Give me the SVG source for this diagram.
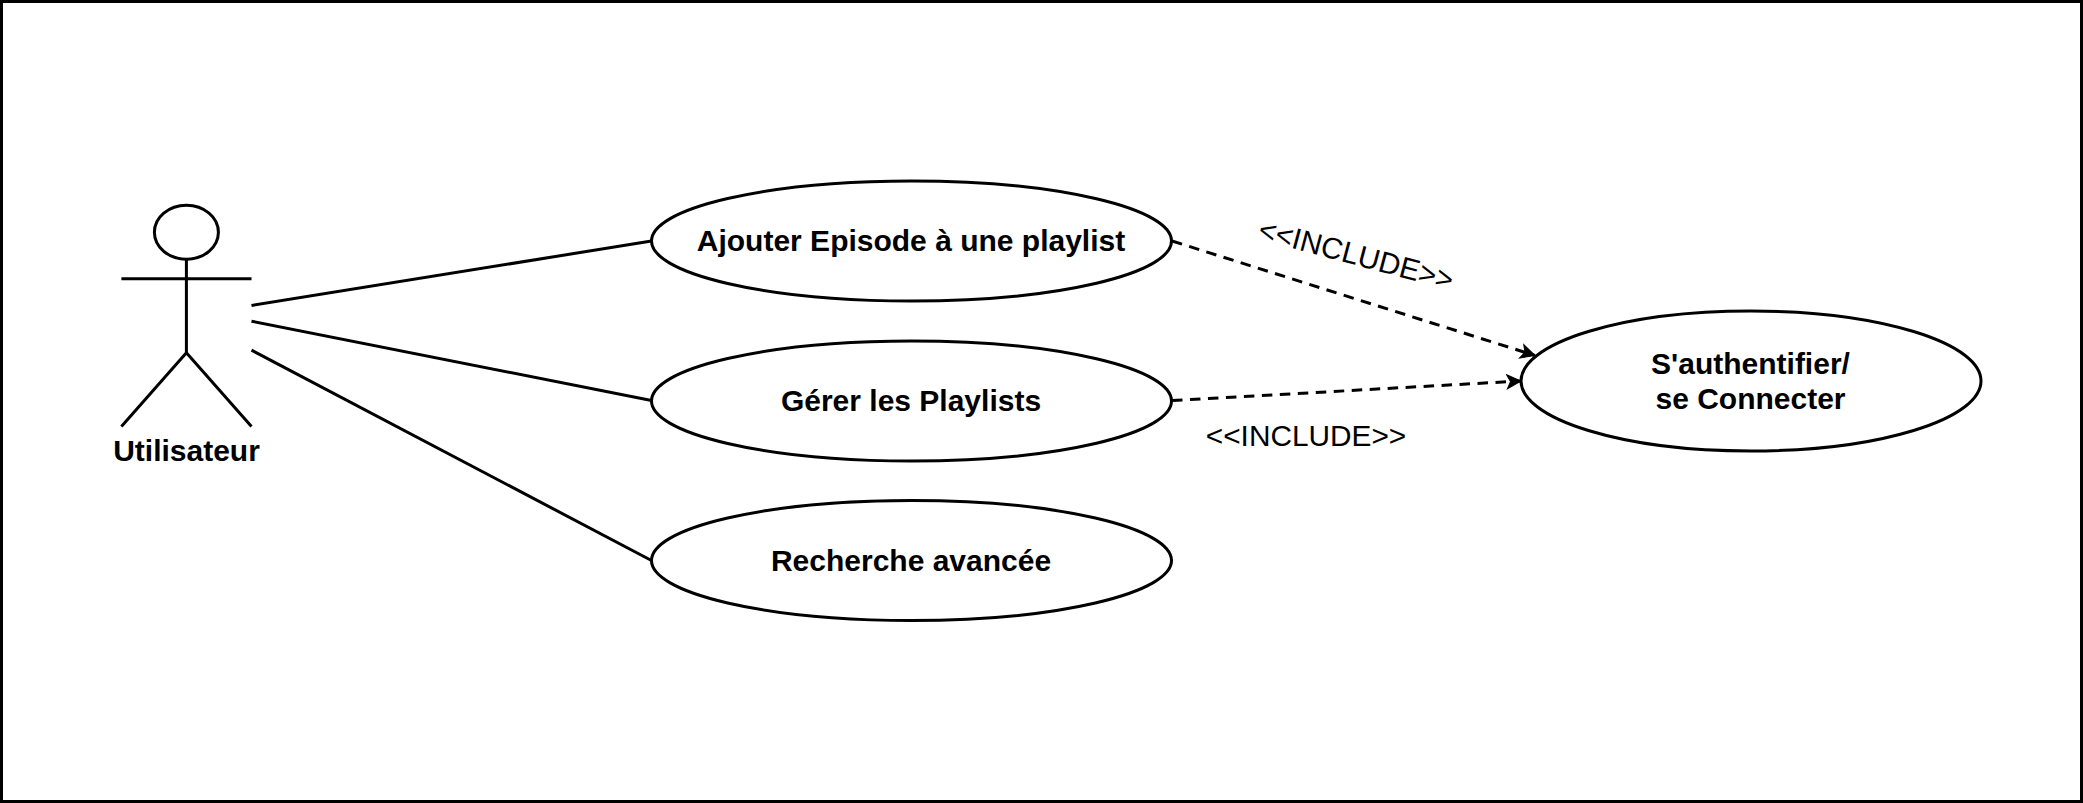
<svg xmlns="http://www.w3.org/2000/svg" width="2083" height="803" viewBox="0 0 2083 803">
<style>
.s{fill:none;stroke:#000;stroke-width:3}
.u{fill:#fff;stroke:#000;stroke-width:3}
.d{fill:none;stroke:#000;stroke-width:3;stroke-dasharray:10.5 7.5}
text{font-family:"Liberation Sans",Arial,sans-serif;font-size:30px;fill:#000;text-anchor:middle}
.b{font-weight:700}
.n{font-size:29.8px}
</style>
<defs>
<marker id="arrow" markerUnits="userSpaceOnUse" markerWidth="18" markerHeight="18" refX="15" refY="8" orient="auto">
<path d="M1 1 L15 8 L1 15 L4.5 8 Z" fill="#000" stroke="#000" stroke-width="1"/>
</marker>
</defs>
<rect id="frame" x="1.5" y="1.5" width="2080" height="800" fill="#fff" stroke="#000" stroke-width="3"/>
<g id="connectors">
<line class="s" x1="251.5" y1="305.5" x2="651.5" y2="241"/>
<line class="s" x1="251.5" y1="321.2" x2="651.5" y2="400.5"/>
<line class="s" x1="251.5" y1="350.2" x2="651.5" y2="560.5"/>
<line class="d" x1="1172" y1="241" x2="1535" y2="355.5" marker-end="url(#arrow)"/>
<line class="d" x1="1172" y1="400.5" x2="1521" y2="381" marker-end="url(#arrow)"/>
</g>
<g id="actor">
<ellipse class="s" cx="186.4" cy="232.2" rx="32" ry="27"/>
<path class="s" d="M186.4 259.5V352.8M121.4 278.8H251.5M121.4 426.5L186.4 352.8L251.5 426.5"/>
<text class="b" x="186.5" y="460.5">Utilisateur</text>
</g>
<g id="uc-ajouter">
<ellipse class="u" cx="911.5" cy="241" rx="260" ry="60"/>
<text class="b" x="911" y="251">Ajouter Episode à une playlist</text>
</g>
<g id="uc-gerer">
<ellipse class="u" cx="911.5" cy="401" rx="260" ry="60"/>
<text class="b" x="911" y="411">Gérer les Playlists</text>
</g>
<g id="uc-recherche">
<ellipse class="u" cx="911.5" cy="560.5" rx="260" ry="60"/>
<text class="b" x="911" y="570.5">Recherche avancée</text>
</g>
<g id="uc-auth">
<ellipse class="u" cx="1751" cy="381" rx="230" ry="70"/>
<text class="b" x="1750.5" y="374">S'authentifier/</text>
<text class="b" x="1750.5" y="409">se Connecter</text>
</g>
<g id="labels">
<text class="n" transform="translate(1353.5 264.5) rotate(15)" x="0" y="0">&lt;&lt;INCLUDE&gt;&gt;</text>
<text class="n" x="1306" y="446">&lt;&lt;INCLUDE&gt;&gt;</text>
</g>
</svg>
